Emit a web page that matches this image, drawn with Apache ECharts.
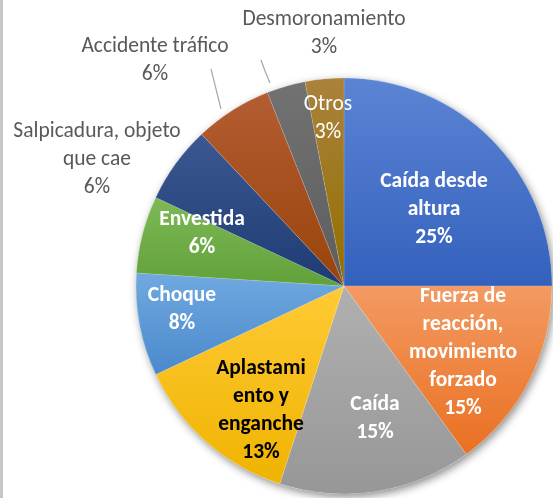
<!DOCTYPE html>
<html>
<head>
<meta charset="utf-8">
<style>
  html, body { margin: 0; padding: 0; background: #ffffff; }
  #chart { width: 553px; height: 498px; }
</style>
<script src="https://cdn.jsdelivr.net/npm/echarts@6/dist/echarts.min.js"></script>
</head>
<body>
<div id="chart"></div>
<script>
// Accident types and their share (%)
const categories = [
  'Caída desde altura',
  'Fuerza de reacción, movimiento forzado',
  'Caída',
  'Aplastamiento y enganche',
  'Choque',
  'Envestida',
  'Salpicadura, objeto que cae',
  'Accidente tráfico',
  'Desmoronamiento',
  'Otros'
];
const shares = [25, 15, 15, 13, 8, 6, 6, 6, 3, 3];

// Wrapped label text for each slice
const labelLines = [
  ['Caída desde', 'altura'],
  ['Fuerza de', 'reacción,', 'movimiento', 'forzado'],
  ['Caída'],
  ['Aplastami', 'ento y', 'enganche'],
  ['Choque'],
  ['Envestida'],
  ['Salpicadura, objeto', 'que cae'],
  ['Accidente tráfico'],
  ['Desmoronamiento'],
  ['Otros']
];

// Gradient stops (top, bottom) per slice
const fills = [
  ['#5B84D4', '#3461BD'],
  ['#F39A63', '#EA7021'],
  ['#B0B0B0', '#979797'],
  ['#FFCA35', '#EFB300'],
  ['#70A9E0', '#4A89CB'],
  ['#7DBA56', '#62A03A'],
  ['#3C5892', '#1E3B73'],
  ['#B35D33', '#99430A'],
  ['#727272', '#5D5D5D'],
  ['#AA823C', '#926F00']
];

// Label styling groups
const LABEL_WHITE_BOLD = 0, LABEL_BLACK_BOLD = 1, LABEL_GRAY = 2, LABEL_WHITE = 3;
const labelKind = [0, 0, 0, 1, 0, 0, 2, 2, 2, 3];

// Label anchor points (centre of each label block) and leader lines
const CX = 344, CY = 286, R = 208;
const labelAnchors = [
  [434, 210], [463, 353], [375, 419], [261, 411], [182, 310],
  [202, 234], [97, 160], [155, 61], [324, 34], [328, 119]
];
const leaderLines = {
  7: [[211, 69], [216, 89], [221, 109]],
  8: [[261, 60], [265, 71], [270, 83]]
};

const FONT = 'Carlito, Lato, "Open Sans", sans-serif';

const kindStyle = {
  0: { color: '#ffffff', fontWeight: 'bold', fontSize: 21.5 },
  1: { color: '#000000', fontWeight: 'bold', fontSize: 21.5 },
  2: { color: '#595959', fontWeight: 'normal', fontSize: 21.5 },
  3: { color: '#ffffff', fontWeight: 'normal', fontSize: 21.5 }
};

const data = categories.map((name, i) => ({
  name: name,
  value: shares[i],
  itemStyle: {
    color: new echarts.graphic.LinearGradient(0, 0, 0, 1, [
      { offset: 0, color: fills[i][0] },
      { offset: 1, color: fills[i][1] }
    ])
  },
  label: Object.assign({
    show: true,
    position: labelKind[i] === LABEL_GRAY ? 'outside' : 'inside',
    formatter: labelLines[i].join('\n') + '\n' + shares[i] + '%',
    fontFamily: FONT,
    lineHeight: 28,
    align: 'center'
  }, kindStyle[labelKind[i]]),
  labelLine: {
    show: !!leaderLines[i],
    lineStyle: { color: '#A6A6A6', width: 1.2 }
  }
}));

const chart = echarts.init(document.getElementById('chart'), null, { renderer: 'canvas' });

chart.setOption({
  backgroundColor: '#ffffff',
  animation: false,
  graphic: [
    {
      type: 'rect',
      z: 0,
      shape: { x: 0, y: 0, width: 3, height: 498 },
      style: { fill: '#C6C6C6' }
    },
    {
      type: 'circle',
      z: 0,
      shape: { cx: CX, cy: CY, r: R },
      style: {
        fill: '#ffffff',
        shadowBlur: 9,
        shadowColor: 'rgba(0,0,0,0.45)',
        shadowOffsetX: 2,
        shadowOffsetY: 3
      }
    }
  ],
  series: [{
    type: 'pie',
    z: 2,
    center: [CX, CY],
    radius: [0, R],
    startAngle: 90,
    clockwise: true,
    avoidLabelOverlap: false,
    itemStyle: { borderColor: 'rgba(255,255,255,0.25)', borderWidth: 0.5 },
    emphasis: { disabled: true },
    data: data,
    labelLayout: function (p) {
      const i = p.dataIndex;
      const a = labelAnchors[i];
      const out = {
        x: a[0],
        y: a[1],
        align: 'center',
        verticalAlign: 'middle',
        hideOverlap: false,
        moveOverlap: false
      };
      if (leaderLines[i]) out.labelLinePoints = leaderLines[i];
      return out;
    }
  }]
});
</script>
</body>
</html>
